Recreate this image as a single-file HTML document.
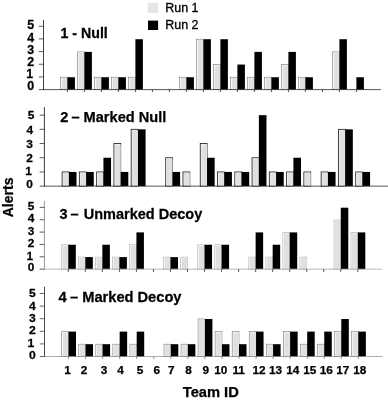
<!DOCTYPE html>
<html><head><meta charset="utf-8"><title>Alerts by Team ID</title>
<style>
html,body{margin:0;padding:0;background:#fff;}
svg{display:block;}
text{font-family:"Liberation Sans",Arial,Helvetica,sans-serif;fill:#000;}
.b{font-weight:bold;stroke:#000;stroke-width:0.25px;}
.r{stroke:#000;stroke-width:0.3px;}
</style></head><body>
<svg width="388" height="401" viewBox="0 0 388 401">
<rect width="388" height="401" fill="#fff"/>

<g>
<rect x="60.60" y="77.23" width="6.80" height="12.37" fill="#fff" stroke="#777" stroke-width="0.6"/>
<rect x="61.60" y="78.13" width="5.80" height="11.47" fill="#e0e0e0"/>
<rect x="67.40" y="77.23" width="7.50" height="12.37" fill="#000"/>
<rect x="77.60" y="51.89" width="6.80" height="37.71" fill="#fff" stroke="#777" stroke-width="0.6"/>
<rect x="78.60" y="52.79" width="5.80" height="36.81" fill="#e0e0e0"/>
<rect x="84.40" y="51.89" width="7.50" height="37.71" fill="#000"/>
<rect x="94.60" y="77.23" width="6.80" height="12.37" fill="#fff" stroke="#777" stroke-width="0.6"/>
<rect x="95.60" y="78.13" width="5.80" height="11.47" fill="#e0e0e0"/>
<rect x="101.40" y="77.23" width="7.50" height="12.37" fill="#000"/>
<rect x="111.60" y="77.23" width="6.80" height="12.37" fill="#fff" stroke="#777" stroke-width="0.6"/>
<rect x="112.60" y="78.13" width="5.80" height="11.47" fill="#e0e0e0"/>
<rect x="118.40" y="77.23" width="7.50" height="12.37" fill="#000"/>
<rect x="128.60" y="77.23" width="6.80" height="12.37" fill="#fff" stroke="#777" stroke-width="0.6"/>
<rect x="129.60" y="78.13" width="5.80" height="11.47" fill="#e0e0e0"/>
<rect x="135.40" y="39.22" width="7.50" height="50.38" fill="#000"/>
<rect x="179.60" y="77.23" width="6.80" height="12.37" fill="#fff" stroke="#777" stroke-width="0.6"/>
<rect x="180.60" y="78.13" width="5.80" height="11.47" fill="#e0e0e0"/>
<rect x="186.40" y="77.23" width="7.50" height="12.37" fill="#000"/>
<rect x="196.60" y="39.22" width="6.80" height="50.38" fill="#fff" stroke="#777" stroke-width="0.6"/>
<rect x="197.60" y="40.12" width="5.80" height="49.48" fill="#e0e0e0"/>
<rect x="203.40" y="39.22" width="7.50" height="50.38" fill="#000"/>
<rect x="213.60" y="64.56" width="6.80" height="25.04" fill="#fff" stroke="#777" stroke-width="0.6"/>
<rect x="214.60" y="65.46" width="5.80" height="24.14" fill="#e0e0e0"/>
<rect x="220.40" y="39.22" width="7.50" height="50.38" fill="#000"/>
<rect x="230.60" y="77.23" width="6.80" height="12.37" fill="#fff" stroke="#777" stroke-width="0.6"/>
<rect x="231.60" y="78.13" width="5.80" height="11.47" fill="#e0e0e0"/>
<rect x="237.40" y="64.56" width="7.50" height="25.04" fill="#000"/>
<rect x="247.60" y="77.23" width="6.80" height="12.37" fill="#fff" stroke="#777" stroke-width="0.6"/>
<rect x="248.60" y="78.13" width="5.80" height="11.47" fill="#e0e0e0"/>
<rect x="254.40" y="51.89" width="7.50" height="37.71" fill="#000"/>
<rect x="264.60" y="77.23" width="6.80" height="12.37" fill="#fff" stroke="#777" stroke-width="0.6"/>
<rect x="265.60" y="78.13" width="5.80" height="11.47" fill="#e0e0e0"/>
<rect x="271.40" y="77.23" width="7.50" height="12.37" fill="#000"/>
<rect x="281.60" y="64.56" width="6.80" height="25.04" fill="#fff" stroke="#777" stroke-width="0.6"/>
<rect x="282.60" y="65.46" width="5.80" height="24.14" fill="#e0e0e0"/>
<rect x="288.40" y="51.89" width="7.50" height="37.71" fill="#000"/>
<rect x="298.60" y="77.23" width="6.80" height="12.37" fill="#fff" stroke="#777" stroke-width="0.6"/>
<rect x="299.60" y="78.13" width="5.80" height="11.47" fill="#e0e0e0"/>
<rect x="305.40" y="77.23" width="7.50" height="12.37" fill="#000"/>
<rect x="332.60" y="51.89" width="6.80" height="37.71" fill="#fff" stroke="#777" stroke-width="0.6"/>
<rect x="333.60" y="52.79" width="5.80" height="36.81" fill="#e0e0e0"/>
<rect x="339.40" y="39.22" width="7.50" height="50.38" fill="#000"/>
<rect x="356.40" y="77.23" width="7.50" height="12.37" fill="#000"/>
<path d="M43.5 19.8V90.0" fill="none" stroke="#2a2a2a" stroke-width="0.9"/>
<path d="M43.1 89.6H380.8" fill="none" stroke="#2a2a2a" stroke-width="0.8"/>
<path d="M38.80 89.60H43.5" stroke="#2a2a2a" stroke-width="0.75"/>
<text class="b" transform="translate(34.21 90.36) scale(1.04 1)" font-size="11.9" text-anchor="end">0</text>
<path d="M38.80 76.93H43.5" stroke="#2a2a2a" stroke-width="0.75"/>
<text class="b" transform="translate(33.01 78.26) scale(1.04 1)" font-size="11.9" text-anchor="end">1</text>
<path d="M38.80 64.26H43.5" stroke="#2a2a2a" stroke-width="0.75"/>
<text class="b" transform="translate(34.21 65.56) scale(1.04 1)" font-size="11.9" text-anchor="end">2</text>
<path d="M38.80 51.59H43.5" stroke="#2a2a2a" stroke-width="0.75"/>
<text class="b" transform="translate(34.21 53.66) scale(1.04 1)" font-size="11.9" text-anchor="end">3</text>
<path d="M38.80 38.92H43.5" stroke="#2a2a2a" stroke-width="0.75"/>
<text class="b" transform="translate(34.21 41.56) scale(1.04 1)" font-size="11.9" text-anchor="end">4</text>
<path d="M38.80 26.25H43.5" stroke="#2a2a2a" stroke-width="0.75"/>
<text class="b" transform="translate(34.21 29.21) scale(1.04 1)" font-size="11.9" text-anchor="end">5</text>
<path d="M67.40 89.6v2.4" stroke="#222" stroke-width="0.8"/>
<path d="M84.40 89.6v2.4" stroke="#222" stroke-width="0.8"/>
<path d="M101.40 89.6v2.4" stroke="#222" stroke-width="0.8"/>
<path d="M118.40 89.6v2.4" stroke="#222" stroke-width="0.8"/>
<path d="M135.40 89.6v2.4" stroke="#222" stroke-width="0.8"/>
<path d="M152.40 89.6v2.4" stroke="#222" stroke-width="0.8"/>
<path d="M169.40 89.6v2.4" stroke="#222" stroke-width="0.8"/>
<path d="M186.40 89.6v2.4" stroke="#222" stroke-width="0.8"/>
<path d="M203.40 89.6v2.4" stroke="#222" stroke-width="0.8"/>
<path d="M220.40 89.6v2.4" stroke="#222" stroke-width="0.8"/>
<path d="M237.40 89.6v2.4" stroke="#222" stroke-width="0.8"/>
<path d="M254.40 89.6v2.4" stroke="#222" stroke-width="0.8"/>
<path d="M271.40 89.6v2.4" stroke="#222" stroke-width="0.8"/>
<path d="M288.40 89.6v2.4" stroke="#222" stroke-width="0.8"/>
<path d="M305.40 89.6v2.4" stroke="#222" stroke-width="0.8"/>
<path d="M322.40 89.6v2.4" stroke="#222" stroke-width="0.8"/>
<path d="M339.40 89.6v2.4" stroke="#222" stroke-width="0.8"/>
<path d="M356.40 89.6v2.4" stroke="#222" stroke-width="0.8"/>
<text class="b" transform="translate(0 37.9) scale(1 1.07)" font-size="14.2"><tspan x="60.5">1 - Null</tspan></text>
</g>
<g>
<rect x="62.10" y="171.95" width="6.80" height="14.20" fill="#fff" stroke="#222" stroke-width="0.85"/>
<rect x="63.10" y="172.85" width="5.80" height="13.30" fill="#e0e0e0"/>
<rect x="68.90" y="171.95" width="7.60" height="14.20" fill="#000"/>
<rect x="79.37" y="171.95" width="6.80" height="14.20" fill="#fff" stroke="#222" stroke-width="0.85"/>
<rect x="80.37" y="172.85" width="5.80" height="13.30" fill="#e0e0e0"/>
<rect x="86.17" y="171.95" width="7.60" height="14.20" fill="#000"/>
<rect x="96.64" y="171.95" width="6.80" height="14.20" fill="#fff" stroke="#222" stroke-width="0.85"/>
<rect x="97.64" y="172.85" width="5.80" height="13.30" fill="#e0e0e0"/>
<rect x="103.44" y="157.75" width="7.60" height="28.40" fill="#000"/>
<rect x="113.91" y="143.55" width="6.80" height="42.60" fill="#fff" stroke="#222" stroke-width="0.85"/>
<rect x="114.91" y="144.45" width="5.80" height="41.70" fill="#e0e0e0"/>
<rect x="120.71" y="171.95" width="7.60" height="14.20" fill="#000"/>
<rect x="131.18" y="129.35" width="6.80" height="56.80" fill="#fff" stroke="#222" stroke-width="0.85"/>
<rect x="132.18" y="130.25" width="5.80" height="55.90" fill="#e0e0e0"/>
<rect x="137.98" y="129.35" width="7.60" height="56.80" fill="#000"/>
<rect x="165.72" y="157.75" width="6.80" height="28.40" fill="#fff" stroke="#222" stroke-width="0.85"/>
<rect x="166.72" y="158.65" width="5.80" height="27.50" fill="#e0e0e0"/>
<rect x="172.52" y="171.95" width="7.60" height="14.20" fill="#000"/>
<rect x="182.99" y="171.95" width="6.80" height="14.20" fill="#fff" stroke="#222" stroke-width="0.85"/>
<rect x="183.99" y="172.85" width="5.80" height="13.30" fill="#e0e0e0"/>
<rect x="200.26" y="143.55" width="6.80" height="42.60" fill="#fff" stroke="#222" stroke-width="0.85"/>
<rect x="201.26" y="144.45" width="5.80" height="41.70" fill="#e0e0e0"/>
<rect x="207.06" y="157.75" width="7.60" height="28.40" fill="#000"/>
<rect x="217.53" y="171.95" width="6.80" height="14.20" fill="#fff" stroke="#222" stroke-width="0.85"/>
<rect x="218.53" y="172.85" width="5.80" height="13.30" fill="#e0e0e0"/>
<rect x="224.33" y="171.95" width="7.60" height="14.20" fill="#000"/>
<rect x="234.80" y="171.95" width="6.80" height="14.20" fill="#fff" stroke="#222" stroke-width="0.85"/>
<rect x="235.80" y="172.85" width="5.80" height="13.30" fill="#e0e0e0"/>
<rect x="241.60" y="171.95" width="7.60" height="14.20" fill="#000"/>
<rect x="252.07" y="157.75" width="6.80" height="28.40" fill="#fff" stroke="#222" stroke-width="0.85"/>
<rect x="253.07" y="158.65" width="5.80" height="27.50" fill="#e0e0e0"/>
<rect x="258.87" y="115.15" width="7.60" height="71.00" fill="#000"/>
<rect x="269.34" y="171.95" width="6.80" height="14.20" fill="#fff" stroke="#222" stroke-width="0.85"/>
<rect x="270.34" y="172.85" width="5.80" height="13.30" fill="#e0e0e0"/>
<rect x="276.14" y="171.95" width="7.60" height="14.20" fill="#000"/>
<rect x="286.61" y="171.95" width="6.80" height="14.20" fill="#fff" stroke="#222" stroke-width="0.85"/>
<rect x="287.61" y="172.85" width="5.80" height="13.30" fill="#e0e0e0"/>
<rect x="293.41" y="157.75" width="7.60" height="28.40" fill="#000"/>
<rect x="303.88" y="171.95" width="6.80" height="14.20" fill="#fff" stroke="#222" stroke-width="0.85"/>
<rect x="304.88" y="172.85" width="5.80" height="13.30" fill="#e0e0e0"/>
<rect x="321.15" y="171.95" width="6.80" height="14.20" fill="#fff" stroke="#222" stroke-width="0.85"/>
<rect x="322.15" y="172.85" width="5.80" height="13.30" fill="#e0e0e0"/>
<rect x="327.95" y="171.95" width="7.60" height="14.20" fill="#000"/>
<rect x="338.42" y="129.35" width="6.80" height="56.80" fill="#fff" stroke="#222" stroke-width="0.85"/>
<rect x="339.42" y="130.25" width="5.80" height="55.90" fill="#e0e0e0"/>
<rect x="345.22" y="129.35" width="7.60" height="56.80" fill="#000"/>
<rect x="355.69" y="171.95" width="6.80" height="14.20" fill="#fff" stroke="#222" stroke-width="0.85"/>
<rect x="356.69" y="172.85" width="5.80" height="13.30" fill="#e0e0e0"/>
<rect x="362.49" y="171.95" width="7.60" height="14.20" fill="#000"/>
<path d="M44.4 107.0V186.55" fill="none" stroke="#2a2a2a" stroke-width="0.9"/>
<path d="M44.0 186.15H388" fill="none" stroke="#2a2a2a" stroke-width="0.8"/>
<path d="M39.70 186.15H44.4" stroke="#222" stroke-width="0.75"/>
<text class="b" transform="translate(32.91 187.84) scale(1.02 1)" font-size="11.7" text-anchor="end">0</text>
<path d="M39.70 171.95H44.4" stroke="#222" stroke-width="0.75"/>
<text class="b" transform="translate(31.91 175.09) scale(1.02 1)" font-size="11.7" text-anchor="end">1</text>
<path d="M39.70 157.75H44.4" stroke="#222" stroke-width="0.75"/>
<text class="b" transform="translate(32.91 162.24) scale(1.02 1)" font-size="11.7" text-anchor="end">2</text>
<path d="M39.70 143.55H44.4" stroke="#222" stroke-width="0.75"/>
<text class="b" transform="translate(32.91 148.44) scale(1.02 1)" font-size="11.7" text-anchor="end">3</text>
<path d="M39.70 129.35H44.4" stroke="#222" stroke-width="0.75"/>
<text class="b" transform="translate(33.21 133.59) scale(1.02 1)" font-size="11.7" text-anchor="end">4</text>
<path d="M39.70 115.15H44.4" stroke="#222" stroke-width="0.75"/>
<text class="b" transform="translate(34.41 118.89) scale(1.02 1)" font-size="11.7" text-anchor="end">5</text>
<text class="b" transform="translate(0 122.2) scale(1 1.0)" font-size="14.6"><tspan x="60.3">2</tspan> <tspan x="71.5">–</tspan> <tspan x="83.6">Marked Null</tspan></text>
</g>
<g>
<rect x="61.50" y="244.75" width="6.80" height="24.40" fill="#fff" stroke="#aaa" stroke-width="0.6"/>
<rect x="62.50" y="245.65" width="5.80" height="23.50" fill="#e0e0e0"/>
<rect x="68.30" y="244.75" width="7.50" height="24.40" fill="#000"/>
<rect x="78.53" y="257.10" width="6.80" height="12.05" fill="#fff" stroke="#aaa" stroke-width="0.6"/>
<rect x="79.53" y="258.00" width="5.80" height="11.15" fill="#e0e0e0"/>
<rect x="85.33" y="257.10" width="7.50" height="12.05" fill="#000"/>
<rect x="95.56" y="257.10" width="6.80" height="12.05" fill="#fff" stroke="#aaa" stroke-width="0.6"/>
<rect x="96.56" y="258.00" width="5.80" height="11.15" fill="#e0e0e0"/>
<rect x="102.36" y="244.75" width="7.50" height="24.40" fill="#000"/>
<rect x="112.59" y="257.10" width="6.80" height="12.05" fill="#fff" stroke="#aaa" stroke-width="0.6"/>
<rect x="113.59" y="258.00" width="5.80" height="11.15" fill="#e0e0e0"/>
<rect x="119.39" y="257.10" width="7.50" height="12.05" fill="#000"/>
<rect x="129.62" y="244.75" width="6.80" height="24.40" fill="#fff" stroke="#aaa" stroke-width="0.6"/>
<rect x="130.62" y="245.65" width="5.80" height="23.50" fill="#e0e0e0"/>
<rect x="136.42" y="232.40" width="7.50" height="36.75" fill="#000"/>
<rect x="163.68" y="257.10" width="6.80" height="12.05" fill="#fff" stroke="#aaa" stroke-width="0.6"/>
<rect x="164.68" y="258.00" width="5.80" height="11.15" fill="#e0e0e0"/>
<rect x="170.48" y="257.10" width="7.50" height="12.05" fill="#000"/>
<rect x="180.71" y="257.10" width="6.80" height="12.05" fill="#fff" stroke="#aaa" stroke-width="0.6"/>
<rect x="181.71" y="258.00" width="5.80" height="11.15" fill="#e0e0e0"/>
<rect x="197.74" y="244.75" width="6.80" height="24.40" fill="#fff" stroke="#aaa" stroke-width="0.6"/>
<rect x="198.74" y="245.65" width="5.80" height="23.50" fill="#e0e0e0"/>
<rect x="204.54" y="244.75" width="7.50" height="24.40" fill="#000"/>
<rect x="214.77" y="244.75" width="6.80" height="24.40" fill="#fff" stroke="#aaa" stroke-width="0.6"/>
<rect x="215.77" y="245.65" width="5.80" height="23.50" fill="#e0e0e0"/>
<rect x="221.57" y="244.75" width="7.50" height="24.40" fill="#000"/>
<rect x="248.83" y="257.10" width="6.80" height="12.05" fill="#fff" stroke="#aaa" stroke-width="0.6"/>
<rect x="249.83" y="258.00" width="5.80" height="11.15" fill="#e0e0e0"/>
<rect x="255.63" y="232.40" width="7.50" height="36.75" fill="#000"/>
<rect x="265.86" y="257.10" width="6.80" height="12.05" fill="#fff" stroke="#aaa" stroke-width="0.6"/>
<rect x="266.86" y="258.00" width="5.80" height="11.15" fill="#e0e0e0"/>
<rect x="272.66" y="244.75" width="7.50" height="24.40" fill="#000"/>
<rect x="282.89" y="232.40" width="6.80" height="36.75" fill="#fff" stroke="#aaa" stroke-width="0.6"/>
<rect x="283.89" y="233.30" width="5.80" height="35.85" fill="#e0e0e0"/>
<rect x="289.69" y="232.40" width="7.50" height="36.75" fill="#000"/>
<rect x="299.92" y="257.10" width="6.80" height="12.05" fill="#fff" stroke="#aaa" stroke-width="0.6"/>
<rect x="300.92" y="258.00" width="5.80" height="11.15" fill="#e0e0e0"/>
<rect x="333.98" y="220.05" width="6.80" height="49.10" fill="#fff" stroke="#aaa" stroke-width="0.6"/>
<rect x="334.98" y="220.95" width="5.80" height="48.20" fill="#e0e0e0"/>
<rect x="340.78" y="207.70" width="7.50" height="61.45" fill="#000"/>
<rect x="351.01" y="232.40" width="6.80" height="36.75" fill="#fff" stroke="#aaa" stroke-width="0.6"/>
<rect x="352.01" y="233.30" width="5.80" height="35.85" fill="#e0e0e0"/>
<rect x="357.81" y="232.40" width="7.50" height="36.75" fill="#000"/>
<path d="M44.4 201.1V269.54999999999995" fill="none" stroke="#8a8a8a" stroke-width="0.9"/>
<path d="M44.0 269.15H382" fill="none" stroke="#a5a5a5" stroke-width="0.8"/>
<path d="M39.70 269.15H44.4" stroke="#2a2a2a" stroke-width="0.75"/>
<text class="b" transform="translate(34.21 271.37) scale(1.03 1)" font-size="11.5" text-anchor="end">0</text>
<path d="M39.70 256.80H44.4" stroke="#2a2a2a" stroke-width="0.75"/>
<text class="b" transform="translate(33.01 259.82) scale(1.03 1)" font-size="11.5" text-anchor="end">1</text>
<path d="M39.70 244.45H44.4" stroke="#2a2a2a" stroke-width="0.75"/>
<text class="b" transform="translate(34.21 247.42) scale(1.03 1)" font-size="11.5" text-anchor="end">2</text>
<path d="M39.70 232.10H44.4" stroke="#2a2a2a" stroke-width="0.75"/>
<text class="b" transform="translate(34.21 234.82) scale(1.03 1)" font-size="11.5" text-anchor="end">3</text>
<path d="M39.70 219.75H44.4" stroke="#2a2a2a" stroke-width="0.75"/>
<text class="b" transform="translate(34.21 222.42) scale(1.03 1)" font-size="11.5" text-anchor="end">4</text>
<path d="M39.70 207.40H44.4" stroke="#2a2a2a" stroke-width="0.75"/>
<text class="b" transform="translate(34.21 209.82) scale(1.03 1)" font-size="11.5" text-anchor="end">5</text>
<path d="M68.30 269.15v2.8" stroke="#2a2a2a" stroke-width="0.8"/>
<path d="M85.33 269.15v2.8" stroke="#2a2a2a" stroke-width="0.8"/>
<path d="M102.36 269.15v2.8" stroke="#2a2a2a" stroke-width="0.8"/>
<path d="M119.39 269.15v2.8" stroke="#2a2a2a" stroke-width="0.8"/>
<path d="M136.42 269.15v2.8" stroke="#2a2a2a" stroke-width="0.8"/>
<path d="M153.45 269.15v2.8" stroke="#2a2a2a" stroke-width="0.8"/>
<path d="M170.48 269.15v2.8" stroke="#2a2a2a" stroke-width="0.8"/>
<path d="M187.51 269.15v2.8" stroke="#2a2a2a" stroke-width="0.8"/>
<path d="M204.54 269.15v2.8" stroke="#2a2a2a" stroke-width="0.8"/>
<path d="M221.57 269.15v2.8" stroke="#2a2a2a" stroke-width="0.8"/>
<path d="M238.60 269.15v2.8" stroke="#2a2a2a" stroke-width="0.8"/>
<path d="M255.63 269.15v2.8" stroke="#2a2a2a" stroke-width="0.8"/>
<path d="M272.66 269.15v2.8" stroke="#2a2a2a" stroke-width="0.8"/>
<path d="M289.69 269.15v2.8" stroke="#2a2a2a" stroke-width="0.8"/>
<path d="M306.72 269.15v2.8" stroke="#2a2a2a" stroke-width="0.8"/>
<path d="M323.75 269.15v2.8" stroke="#2a2a2a" stroke-width="0.8"/>
<path d="M340.78 269.15v2.8" stroke="#2a2a2a" stroke-width="0.8"/>
<path d="M357.81 269.15v2.8" stroke="#2a2a2a" stroke-width="0.8"/>
<text class="b" transform="translate(0 219.2) scale(1 1.05)" font-size="14.52"><tspan x="59.5">3</tspan> <tspan x="70.5">–</tspan> <tspan x="83.7">Unmarked Decoy</tspan></text>
</g>
<g>
<rect x="61.70" y="331.60" width="6.80" height="24.90" fill="#fff" stroke="#777" stroke-width="0.6"/>
<rect x="62.70" y="332.50" width="5.80" height="24.00" fill="#e0e0e0"/>
<rect x="68.50" y="331.60" width="7.50" height="24.90" fill="#000"/>
<rect x="78.75" y="344.20" width="6.80" height="12.30" fill="#fff" stroke="#777" stroke-width="0.6"/>
<rect x="79.75" y="345.10" width="5.80" height="11.40" fill="#e0e0e0"/>
<rect x="85.55" y="344.20" width="7.50" height="12.30" fill="#000"/>
<rect x="95.80" y="344.20" width="6.80" height="12.30" fill="#fff" stroke="#777" stroke-width="0.6"/>
<rect x="96.80" y="345.10" width="5.80" height="11.40" fill="#e0e0e0"/>
<rect x="102.60" y="344.20" width="7.50" height="12.30" fill="#000"/>
<rect x="112.85" y="344.20" width="6.80" height="12.30" fill="#fff" stroke="#777" stroke-width="0.6"/>
<rect x="113.85" y="345.10" width="5.80" height="11.40" fill="#e0e0e0"/>
<rect x="119.65" y="331.60" width="7.50" height="24.90" fill="#000"/>
<rect x="129.90" y="344.20" width="6.80" height="12.30" fill="#fff" stroke="#777" stroke-width="0.6"/>
<rect x="130.90" y="345.10" width="5.80" height="11.40" fill="#e0e0e0"/>
<rect x="136.70" y="331.60" width="7.50" height="24.90" fill="#000"/>
<rect x="164.00" y="344.20" width="6.80" height="12.30" fill="#fff" stroke="#777" stroke-width="0.6"/>
<rect x="165.00" y="345.10" width="5.80" height="11.40" fill="#e0e0e0"/>
<rect x="170.80" y="344.20" width="7.50" height="12.30" fill="#000"/>
<rect x="181.05" y="344.20" width="6.80" height="12.30" fill="#fff" stroke="#777" stroke-width="0.6"/>
<rect x="182.05" y="345.10" width="5.80" height="11.40" fill="#e0e0e0"/>
<rect x="187.85" y="344.20" width="7.50" height="12.30" fill="#000"/>
<rect x="198.10" y="319.00" width="6.80" height="37.50" fill="#fff" stroke="#777" stroke-width="0.6"/>
<rect x="199.10" y="319.90" width="5.80" height="36.60" fill="#e0e0e0"/>
<rect x="204.90" y="319.00" width="7.50" height="37.50" fill="#000"/>
<rect x="215.15" y="331.60" width="6.80" height="24.90" fill="#fff" stroke="#777" stroke-width="0.6"/>
<rect x="216.15" y="332.50" width="5.80" height="24.00" fill="#e0e0e0"/>
<rect x="221.95" y="344.20" width="7.50" height="12.30" fill="#000"/>
<rect x="232.20" y="331.60" width="6.80" height="24.90" fill="#fff" stroke="#777" stroke-width="0.6"/>
<rect x="233.20" y="332.50" width="5.80" height="24.00" fill="#e0e0e0"/>
<rect x="239.00" y="344.20" width="7.50" height="12.30" fill="#000"/>
<rect x="249.25" y="331.60" width="6.80" height="24.90" fill="#fff" stroke="#777" stroke-width="0.6"/>
<rect x="250.25" y="332.50" width="5.80" height="24.00" fill="#e0e0e0"/>
<rect x="256.05" y="331.60" width="7.50" height="24.90" fill="#000"/>
<rect x="266.30" y="344.20" width="6.80" height="12.30" fill="#fff" stroke="#777" stroke-width="0.6"/>
<rect x="267.30" y="345.10" width="5.80" height="11.40" fill="#e0e0e0"/>
<rect x="273.10" y="344.20" width="7.50" height="12.30" fill="#000"/>
<rect x="283.35" y="331.60" width="6.80" height="24.90" fill="#fff" stroke="#777" stroke-width="0.6"/>
<rect x="284.35" y="332.50" width="5.80" height="24.00" fill="#e0e0e0"/>
<rect x="290.15" y="331.60" width="7.50" height="24.90" fill="#000"/>
<rect x="300.40" y="344.20" width="6.80" height="12.30" fill="#fff" stroke="#777" stroke-width="0.6"/>
<rect x="301.40" y="345.10" width="5.80" height="11.40" fill="#e0e0e0"/>
<rect x="307.20" y="331.60" width="7.50" height="24.90" fill="#000"/>
<rect x="317.45" y="344.20" width="6.80" height="12.30" fill="#fff" stroke="#777" stroke-width="0.6"/>
<rect x="318.45" y="345.10" width="5.80" height="11.40" fill="#e0e0e0"/>
<rect x="324.25" y="331.60" width="7.50" height="24.90" fill="#000"/>
<rect x="334.50" y="331.60" width="6.80" height="24.90" fill="#fff" stroke="#777" stroke-width="0.6"/>
<rect x="335.50" y="332.50" width="5.80" height="24.00" fill="#e0e0e0"/>
<rect x="341.30" y="319.00" width="7.50" height="37.50" fill="#000"/>
<rect x="351.55" y="331.60" width="6.80" height="24.90" fill="#fff" stroke="#777" stroke-width="0.6"/>
<rect x="352.55" y="332.50" width="5.80" height="24.00" fill="#e0e0e0"/>
<rect x="358.35" y="331.60" width="7.50" height="24.90" fill="#000"/>
<path d="M44.5 286.7V356.9" fill="none" stroke="#3a3a3a" stroke-width="0.9"/>
<path d="M44.1 356.5H382.6" fill="none" stroke="#777" stroke-width="0.6"/>
<path d="M39.80 356.50H44.5" stroke="#333" stroke-width="0.75"/>
<text class="b" transform="translate(35.81 358.54) scale(1.04 1)" font-size="11.7" text-anchor="end">0</text>
<path d="M39.80 343.90H44.5" stroke="#333" stroke-width="0.75"/>
<text class="b" transform="translate(34.31 346.59) scale(1.04 1)" font-size="11.7" text-anchor="end">1</text>
<path d="M39.80 331.30H44.5" stroke="#333" stroke-width="0.75"/>
<text class="b" transform="translate(35.81 334.24) scale(1.04 1)" font-size="11.7" text-anchor="end">2</text>
<path d="M39.80 318.70H44.5" stroke="#333" stroke-width="0.75"/>
<text class="b" transform="translate(35.81 321.84) scale(1.04 1)" font-size="11.7" text-anchor="end">3</text>
<path d="M39.80 306.10H44.5" stroke="#333" stroke-width="0.75"/>
<text class="b" transform="translate(35.81 309.79) scale(1.04 1)" font-size="11.7" text-anchor="end">4</text>
<path d="M39.80 293.50H44.5" stroke="#333" stroke-width="0.75"/>
<text class="b" transform="translate(35.81 297.19) scale(1.04 1)" font-size="11.7" text-anchor="end">5</text>
<path d="M68.50 356.5v2.4" stroke="#444" stroke-width="0.6"/>
<path d="M85.55 356.5v2.4" stroke="#444" stroke-width="0.6"/>
<path d="M102.60 356.5v2.4" stroke="#444" stroke-width="0.6"/>
<path d="M119.65 356.5v2.4" stroke="#444" stroke-width="0.6"/>
<path d="M136.70 356.5v2.4" stroke="#444" stroke-width="0.6"/>
<path d="M153.75 356.5v2.4" stroke="#444" stroke-width="0.6"/>
<path d="M170.80 356.5v2.4" stroke="#444" stroke-width="0.6"/>
<path d="M187.85 356.5v2.4" stroke="#444" stroke-width="0.6"/>
<path d="M204.90 356.5v2.4" stroke="#444" stroke-width="0.6"/>
<path d="M221.95 356.5v2.4" stroke="#444" stroke-width="0.6"/>
<path d="M239.00 356.5v2.4" stroke="#444" stroke-width="0.6"/>
<path d="M256.05 356.5v2.4" stroke="#444" stroke-width="0.6"/>
<path d="M273.10 356.5v2.4" stroke="#444" stroke-width="0.6"/>
<path d="M290.15 356.5v2.4" stroke="#444" stroke-width="0.6"/>
<path d="M307.20 356.5v2.4" stroke="#444" stroke-width="0.6"/>
<path d="M324.25 356.5v2.4" stroke="#444" stroke-width="0.6"/>
<path d="M341.30 356.5v2.4" stroke="#444" stroke-width="0.6"/>
<path d="M358.35 356.5v2.4" stroke="#444" stroke-width="0.6"/>
<text class="b" transform="translate(0 302.3) scale(1 1.04)" font-size="14.66"><tspan x="58.6">4</tspan> <tspan x="70.0">–</tspan> <tspan x="82.2">Marked Decoy</tspan></text>
</g>
<rect x="147.6" y="2.9" width="10.5" height="10" fill="#e6e6e6"/>
<rect x="148" y="20.6" width="10.1" height="9.4" fill="#000"/>
<text class="r" transform="translate(165.2 11.8) scale(1 1.07)" font-size="12.5">Run 1</text>
<text class="r" transform="translate(165.2 28.6) scale(1 1.07)" font-size="12.5">Run 2</text>
<text class="b" x="67.6" y="374.4" font-size="11.8" text-anchor="middle">1</text>
<text class="b" x="84.1" y="374.4" font-size="11.8" text-anchor="middle">2</text>
<text class="b" x="104" y="374.4" font-size="11.8" text-anchor="middle">3</text>
<text class="b" x="120.5" y="374.4" font-size="11.8" text-anchor="middle">4</text>
<text class="b" x="140.1" y="374.4" font-size="11.8" text-anchor="middle">5</text>
<text class="b" x="156.9" y="374.4" font-size="11.8" text-anchor="middle">6</text>
<text class="b" x="171.3" y="374.4" font-size="11.8" text-anchor="middle">7</text>
<text class="b" x="188.5" y="374.4" font-size="11.8" text-anchor="middle">8</text>
<text class="b" x="205.7" y="374.4" font-size="11.8" text-anchor="middle">9</text>
<text class="b" x="220.8" y="374.4" font-size="11.8" text-anchor="middle">10</text>
<text class="b" x="238.7" y="374.4" font-size="11.8" text-anchor="middle">11</text>
<text class="b" x="259.1" y="374.4" font-size="11.8" text-anchor="middle">12</text>
<text class="b" x="275.5" y="374.4" font-size="11.8" text-anchor="middle">13</text>
<text class="b" x="292.7" y="374.4" font-size="11.8" text-anchor="middle">14</text>
<text class="b" x="309.8" y="374.4" font-size="11.8" text-anchor="middle">15</text>
<text class="b" x="326.3" y="374.4" font-size="11.8" text-anchor="middle">16</text>
<text class="b" x="342.8" y="374.4" font-size="11.8" text-anchor="middle">17</text>
<text class="b" x="359.8" y="374.4" font-size="11.8" text-anchor="middle">18</text>
<text class="b" x="210.8" y="396.8" font-size="14.7" text-anchor="middle">Team ID</text>
<text class="b" transform="translate(13 197.4) rotate(-90)" font-size="14.1" text-anchor="middle">Alerts</text>
</svg></body></html>
